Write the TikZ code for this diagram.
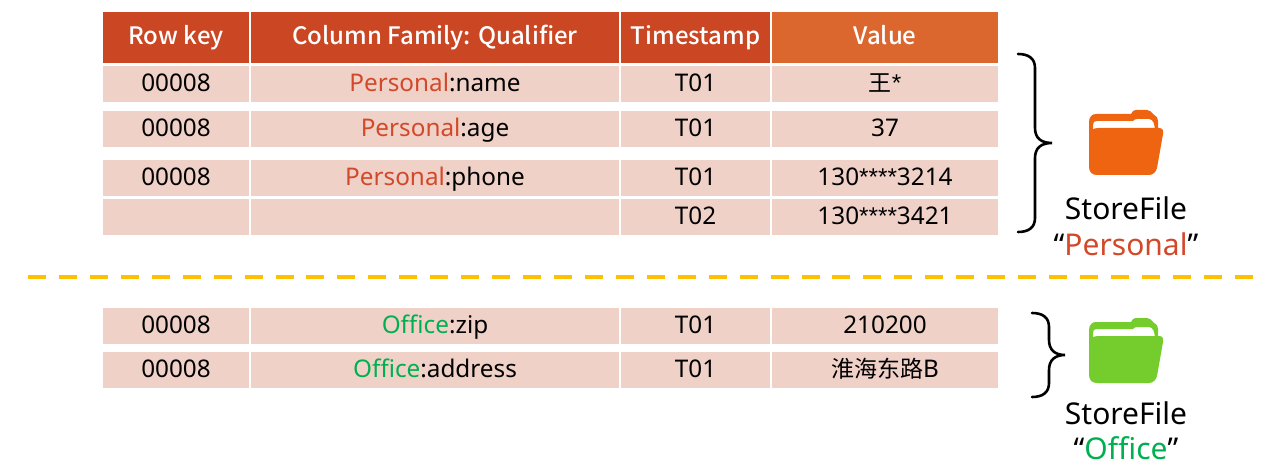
\documentclass[tikz,border=0pt]{standalone}
\usepackage{fontspec}
\setmainfont{Noto Sans}
\newfontfamily\cjk{Noto Sans CJK SC}
\newfontfamily\astfont{Liberation Sans}
\newfontfamily\headfont{Noto Sans CJK SC Medium}
\newcommand{\st}{{\astfont *}}
\newcommand{\cjktext}[1]{{\fontsize{23}{27}\selectfont\cjk #1}}
\definecolor{hdr}{HTML}{CB4622}
\definecolor{hdrv}{HTML}{DB672F}
\definecolor{cell}{HTML}{F0D1C8}
\definecolor{pers}{HTML}{D2492A}
\definecolor{offi}{HTML}{00B050}
\definecolor{dashc}{HTML}{FFC000}
\definecolor{fold}{HTML}{EE6411}
\definecolor{foldg}{HTML}{74CD2C}
\newcommand{\cellbox}[7]{% name,x0,x1,y0,y1,style,text
  \path[#6] (#2,#4) rectangle (#3,#5);
  \node[#6,draw=none,fill=none] (#1) at ({(#2+#3)/2},{(#4+#5)/2}) {#7};}
\newcommand{\drawrow}[7]{% prefix,y0,y1,a,b,c,d
  \cellbox{#1a}{103}{249}{#2}{#3}{bodycell}{#4}
  \cellbox{#1b}{251}{619}{#2}{#3}{bodycell}{#5}
  \cellbox{#1c}{621}{770}{#2}{#3}{bodycell}{#6}
  \cellbox{#1d}{772}{998}{#2}{#3}{bodycell}{#7}}
\newcommand{\folder}[3]{% x,y(top-left of icon origin 1089,110),colour
  \begin{scope}[shift={(#1,#2)},fill=#3]
    \fill (0,30) -- (0,12) .. controls (0,7) and (3,4) .. (7,4) -- (42,4) .. controls (43,1) and (45,0) .. (47,0)
      -- (58,0) .. controls (61,0) and (62,2) .. (64,4) .. controls (67,5) and (69,8) .. (69,12) -- (69,22) -- (66,22)
      .. controls (66,14) and (64,9) .. (60,9) -- (48,9) .. controls (46,9) and (45,10) .. (44,11) -- (8,11)
      .. controls (5,11) and (4,12) .. (4,15) -- (4,30) -- cycle;
    \fill (0,26) .. controls (0,21) and (4,18) .. (9,18) -- (70,18) .. controls (73,18) and (75,20) .. (74,24)
      -- (68,58) .. controls (67,62) and (64,65) .. (60,65) -- (8,65) .. controls (3,65) and (0,62) .. (0,57) -- cycle;
  \end{scope}}
\begin{document}
\begin{tikzpicture}[x=1pt,y=-1pt,
  every node/.style={inner sep=0pt,outer sep=0pt,text=black},
  bodycell/.style={fill=cell,align=center,text height=19pt,text depth=3.5pt,font=\fontsize{24.3}{27}\selectfont},
  headcell/.style={fill=hdr,align=center,text=white,text height=18.5pt,text depth=4pt,font=\fontsize{24}{27}\selectfont\headfont},
  headval/.style={headcell,fill=hdrv},
  sep/.style={draw=dashc,line width=4pt,dash pattern=on 18pt off 12.94pt},
  brace/.style={draw=black,line width=2.6pt,line cap=round},
  label/.style={font=\fontsize{30}{32}\selectfont,align=center,text height=24pt,text depth=3pt}]
\useasboundingbox (0,0) rectangle (1284,470);
\cellbox{ha}{103}{249}{12}{63}{headcell}{Row key}
\cellbox{hb}{251}{619}{12}{63}{headcell}{Column Family: Qualifier}
\cellbox{hc}{621}{770}{12}{63}{headcell}{Timestamp}
\cellbox{hd}{772}{998}{12}{63}{headval}{Value}
\drawrow{r1}{66}{102}{00008}{\textcolor{pers}{Personal}:name}{T01}{\cjktext{王}\st}
\drawrow{r2}{111}{147}{00008}{\textcolor{pers}{Personal}:age}{T01}{37}
\drawrow{r3}{160}{196}{00008}{\textcolor{pers}{Personal}:phone}{T01}{130\st\st\st\st3214}
\drawrow{r4}{199}{235}{}{}{T02}{130\st\st\st\st3421}
\drawrow{r5}{308}{344}{00008}{\textcolor{offi}{Office}:zip}{T01}{210200}
\drawrow{r6}{352}{388}{00008}{\textcolor{offi}{Office}:address}{T01}{\cjktext{淮海东路}B}
\coordinate (sl) at (28,277);
\coordinate (sr) at (1253,277);
\draw[sep] (sl) -- (sr);
\coordinate (b1t) at (1018,54);
\coordinate (b1m) at (1052,143);
\coordinate (b1b) at (1018,232);
\draw[brace] (b1t) .. controls (1028,54) and (1035,58) .. (1035,68) -- (1035,128)
  .. controls (1035,138) and (1041,143) .. (b1m) .. controls (1041,143) and (1035,148) .. (1035,158)
  -- (1035,218) .. controls (1035,228) and (1028,232) .. (b1b);
\coordinate (b2t) at (1032,313);
\coordinate (b2m) at (1065,355);
\coordinate (b2b) at (1032,397);
\draw[brace] (b2t) .. controls (1042,313) and (1049,317) .. (1049,327) -- (1049,340)
  .. controls (1049,350) and (1055,355) .. (b2m) .. controls (1055,355) and (1049,360) .. (1049,370)
  -- (1049,383) .. controls (1049,393) and (1042,397) .. (b2b);
\folder{1089}{110}{fold}
\folder{1089}{318}{foldg}
\node[label] (l1) at (1126,209) {StoreFile};
\node[label] (l2) at (1126,245) {“\textcolor{pers}{Personal}”};
\node[label] (l3) at (1126,414) {StoreFile};
\node[label] (l4) at (1126,449) {“\textcolor{offi}{Office}”};
\end{tikzpicture}
\end{document}
